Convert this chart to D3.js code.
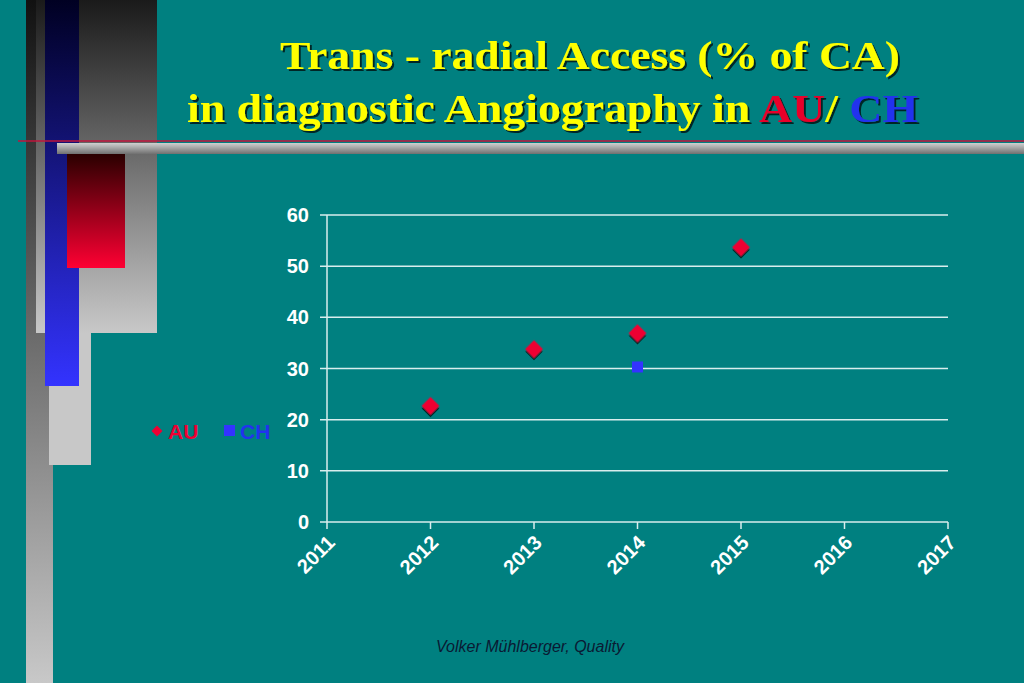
<!DOCTYPE html>
<html><head><meta charset="utf-8">
<script src="https://cdn.jsdelivr.net/npm/d3@7"></script>
<style>body{margin:0;background:#008080}</style>
</head><body>
<svg id="c" width="1024" height="683"></svg>
<script>
const auYears = [2012, 2013, 2014, 2015];
const auValues = [22.7, 33.8, 36.9, 53.7];
const chYears = [2014];
const chValues = [30.3];
const xTicks = [2011, 2012, 2013, 2014, 2015, 2016, 2017];
const yTicks = [0, 10, 20, 30, 40, 50, 60];

const svg = d3.select("#c");
svg.append("rect").attr("width", 1024).attr("height", 683).attr("fill", "#008080");

// ─── gradients ───
const defs = svg.append("defs");
function grad(id, c1, c2) {
  const g = defs.append("linearGradient").attr("id", id).attr("x1", 0).attr("y1", 0).attr("x2", 0).attr("y2", 1);
  g.append("stop").attr("offset", 0).attr("stop-color", c1);
  g.append("stop").attr("offset", 1).attr("stop-color", c2);
}
grad("gCol", "#111", "#c8c8c8");
grad("gBig", "#1a1a1a", "#c8c8c8");
grad("gBlue", "#000022", "#3333ff");
grad("gRed", "#2a0000", "#ff0033");
grad("gBar", "#d0d0d0", "#707070");
defs.append("filter").attr("id", "sh").append("feDropShadow")
  .attr("dx", 2).attr("dy", 2).attr("stdDeviation", 0.5).attr("flood-color", "#000").attr("flood-opacity", 0.7);

// ─── decoration ───
svg.append("rect").attr("x", 26).attr("y", 0).attr("width", 27).attr("height", 683).attr("fill", "url(#gCol)");
svg.append("rect").attr("x", 36).attr("y", 0).attr("width", 121).attr("height", 333).attr("fill", "url(#gBig)");
svg.append("rect").attr("x", 49).attr("y", 333).attr("width", 42).attr("height", 132).attr("fill", "#c8c8c8");
svg.append("rect").attr("x", 45).attr("y", 0).attr("width", 34).attr("height", 386).attr("fill", "url(#gBlue)");
svg.append("rect").attr("x", 67).attr("y", 154).attr("width", 58).attr("height", 114).attr("fill", "url(#gRed)");
svg.append("rect").attr("x", 57).attr("y", 143).attr("width", 967).attr("height", 11).attr("fill", "url(#gBar)");
svg.append("line").attr("x1", 18).attr("x2", 1024).attr("y1", 141).attr("y2", 141).attr("stroke", "#c0143c").attr("stroke-width", 1.5);

// ─── title ───
const tf = "'Liberation Serif', 'Times New Roman', serif";
svg.append("text").attr("x", 590).attr("y", 69).attr("text-anchor", "middle")
  .attr("font-family", tf).attr("font-weight", "bold").attr("font-size", 40).attr("fill", "#ffff00")
  .attr("textLength", 620).attr("lengthAdjust", "spacingAndGlyphs")
  .attr("filter", "url(#sh)").text("Trans - radial Access (% of CA)");
const t2 = svg.append("text").attr("x", 187).attr("y", 122)
  .attr("font-family", tf).attr("font-weight", "bold").attr("font-size", 40).attr("fill", "#ffff00")
  .attr("textLength", 731).attr("lengthAdjust", "spacingAndGlyphs")
  .attr("filter", "url(#sh)");
t2.append("tspan").text("in diagnostic Angiography in ");
t2.append("tspan").attr("fill", "#e8002a").text("AU");
t2.append("tspan").text("/ ");
t2.append("tspan").attr("fill", "#2233ee").text("CH");

// ─── chart ───
const x = d3.scaleLinear().domain([2011, 2017]).range([327, 948]);
const y = d3.scaleLinear().domain([0, 60]).range([522, 215]);
const sf = "'Liberation Sans', Arial, sans-serif";

svg.append("g").selectAll("line").data(yTicks).join("line")
  .attr("x1", 320).attr("x2", 948).attr("y1", d => y(d)).attr("y2", d => y(d))
  .attr("stroke", "#d8eeee").attr("stroke-width", 1.5);
svg.append("line").attr("x1", 327).attr("x2", 327).attr("y1", y(60)).attr("y2", y(0))
  .attr("stroke", "#d8eeee").attr("stroke-width", 1.5);
svg.append("g").selectAll("line").data(xTicks).join("line")
  .attr("x1", d => x(d)).attr("x2", d => x(d)).attr("y1", 522).attr("y2", 529)
  .attr("stroke", "#d8eeee").attr("stroke-width", 1.5);

svg.append("g").selectAll("text").data(xTicks).join("text")
  .attr("transform", d => `translate(${x(d) + 9},${544}) rotate(-45)`).attr("text-anchor", "end")
  .attr("font-family", sf).attr("font-weight", "bold").attr("font-size", 20).attr("fill", "#fff")
  .text(d => d);
svg.append("g").selectAll("text").data(yTicks).join("text")
  .attr("x", 309).attr("y", d => y(d) + 7).attr("text-anchor", "end")
  .attr("font-family", sf).attr("font-weight", "bold").attr("font-size", 20).attr("fill", "#fff")
  .text(d => d);

svg.append("g").selectAll("path").data(auYears).join("path")
  .attr("transform", (d, i) => `translate(${x(d)},${y(auValues[i])}) rotate(45)`)
  .attr("d", d3.symbol().type(d3.symbolSquare).size(160)).attr("fill", "#ee0033")
  .attr("filter", "url(#sh)");
svg.append("g").selectAll("rect").data(chYears).join("rect")
  .attr("x", d => x(d) - 5.5).attr("y", (d, i) => y(chValues[i]) - 5.5)
  .attr("width", 11).attr("height", 11).attr("fill", "#3333ff");

// ─── legend ───
svg.append("path").attr("transform", "translate(157,431) rotate(45)")
  .attr("d", d3.symbol().type(d3.symbolSquare).size(60)).attr("fill", "#ee0033");
svg.append("text").attr("x", 168).attr("y", 439).attr("font-family", sf).attr("font-weight", "bold")
  .attr("font-size", 21).attr("fill", "#ee0033").text("AU");
svg.append("rect").attr("x", 224).attr("y", 425).attr("width", 11).attr("height", 11).attr("fill", "#3333ff");
svg.append("text").attr("x", 240).attr("y", 439).attr("font-family", sf).attr("font-weight", "bold")
  .attr("font-size", 21).attr("fill", "#2233ee").text("CH");

// ─── footer ───
svg.append("text").attr("x", 530).attr("y", 652).attr("text-anchor", "middle")
  .attr("font-family", sf).attr("font-style", "italic").attr("font-size", 16).attr("fill", "#0a1a33")
  .text("Volker Mühlberger, Quality");
</script>
</body></html>
